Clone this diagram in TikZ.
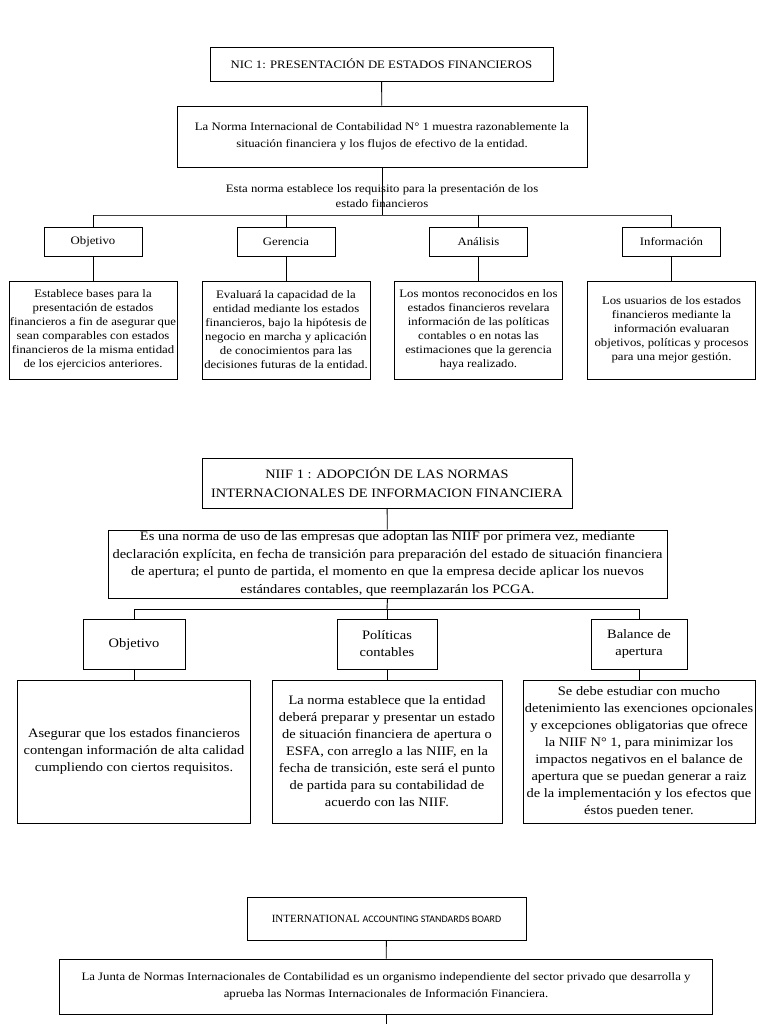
\documentclass[tikz,border=0pt]{standalone}
\usepackage{fontspec}
\setmainfont{Liberation Serif}[FakeStretch=1.12]
\newfontfamily\plainserif{Liberation Serif}
\newfontfamily\calib{Carlito}
\begin{document}
\begin{tikzpicture}[x=1pt,y=-1pt,
  box/.style={draw, line width=0.9pt, inner sep=0pt, align=center},
  fsa/.style={font=\fontsize{11.4}{14}\selectfont},
  fsb/.style={font=\fontsize{12.9}{17}\selectfont},
  ln/.style={line width=0.9pt}]
\useasboundingbox[fill=white] (0,0) rectangle (768,1024);

% ---------- Section 1 ----------
\node[box, fsa, minimum width=343, minimum height=34] (t1) at (381.5,64) {NIC 1: PRESENTACIÓN DE ESTADOS FINANCIEROS};
\node[box, font=\fontsize{11.4}{17}\selectfont, minimum width=410, minimum height=61] (d1) at (382,136.5)
  {La Norma Internacional de Contabilidad N° 1 muestra razonablemente la\\situación financiera y los flujos de efectivo de la entidad.};
\coordinate (b1) at (382,215);
\coordinate (b1l) at (93,215);
\coordinate (b1r) at (672,215);
\draw[ln] (t1) -- (d1);
\draw[ln] (d1.south) -- (b1);
\node[font=\fontsize{11.4}{15}\selectfont, align=center, inner sep=0pt] (lab1) at (382,196)
  {Esta norma establece los requisito para la presentación de los\\estado financieros};
\draw[ln, black!75] (b1l) -- (b1r);

\node[box, fsa, minimum width=98, minimum height=29] (c11) at (93,241.5) {Objetivo};
\node[box, fsa, minimum width=98, minimum height=29] (c12) at (286,241.5) {Gerencia};
\node[box, fsa, minimum width=98, minimum height=29] (c13) at (478.5,241.5) {Análisis};
\node[box, fsa, minimum width=98, minimum height=29] (c14) at (671.5,241.5) {Información};

\node[box, fsa, minimum width=168, minimum height=98] (e11) at (93,330)
  {Establece bases para la\\presentación de estados\\financieros a fin de asegurar que\\sean comparables con estados\\financieros de la misma entidad\\de los ejercicios anteriores.};
\node[box, fsa, minimum width=168, minimum height=98] (e12) at (286,330)
  {Evaluará la capacidad de la\\entidad mediante los estados\\financieros, bajo la hipótesis de\\negocio en marcha y aplicación\\de conocimientos para las\\decisiones futuras de la entidad.};
\node[box, fsa, minimum width=168, minimum height=98] (e13) at (478.5,330)
  {Los montos reconocidos en los\\estados financieros revelara\\información de las políticas\\contables o en notas las\\estimaciones que la gerencia\\haya realizado.};
\node[box, fsa, minimum width=168, minimum height=98] (e14) at (671.5,330)
  {Los usuarios de los estados\\financieros mediante la\\información evaluaran\\objetivos, políticas y procesos\\para una mejor gestión.};

\foreach \i in {1,2,3,4}{
  \draw[ln] (c1\i.north |- b1) -- (c1\i.north);
  \draw[ln] (c1\i) -- (e1\i);
}

% ---------- Section 2 ----------
\node[box, font=\fontsize{12.8}{19}\selectfont, minimum width=370, minimum height=50] (t2) at (387,483)
  {NIIF 1 : ADOPCIÓN DE LAS NORMAS\\INTERNACIONALES DE INFORMACION FINANCIERA};
\node[box, font=\fontsize{12.9}{17.7}\selectfont, minimum width=559, minimum height=68] (d2) at (387.5,564)
  {Es una norma de uso de las empresas que adoptan las NIIF por primera vez, mediante\\declaración explícita, en fecha de transición para preparación del estado de situación financiera\\de apertura; el punto de partida, el momento en que la empresa decide aplicar los nuevos\\estándares contables, que reemplazarán los PCGA.};
\coordinate (b2) at (387,609);
\coordinate (b2l) at (134,609);
\coordinate (b2r) at (639,609);
\draw[ln] (t2) -- (d2);
\draw[ln] (d2.south) -- (b2);
\draw[ln] (b2l) -- (b2r);

\node[box, fsb, minimum width=102, minimum height=50] (c21) at (134,644) {Objetivo};
\node[box, fsb, minimum width=100, minimum height=50] (c22) at (387,644) {Políticas\\contables};
\node[box, fsb, minimum width=96, minimum height=50] (c23) at (639,644) {Balance de\\apertura};

\node[box, fsb, minimum width=233, minimum height=143] (e21) at (134,751.5)
  {Asegurar que los estados financieros\\contengan información de alta calidad\\cumpliendo con ciertos requisitos.};
\node[box, fsb, minimum width=230, minimum height=143] (e22) at (387,751.5)
  {La norma establece que la entidad\\deberá preparar y presentar un estado\\de situación financiera de apertura o\\ESFA, con arreglo a las NIIF, en la\\fecha de transición, este será el punto\\de partida para su contabilidad de\\acuerdo con las NIIF.};
\node[box, fsb, minimum width=232, minimum height=143] (e23) at (639,751.5)
  {Se debe estudiar con mucho\\detenimiento las exenciones opcionales\\y excepciones obligatorias que ofrece\\la NIIF N° 1, para minimizar los\\impactos negativos en el balance de\\apertura que se puedan generar a raiz\\de la implementación y los efectos que\\éstos pueden tener.};

\foreach \i in {1,2,3}{
  \draw[ln] (c2\i.north |- b2) -- (c2\i.north);
  \draw[ln] (c2\i) -- (e2\i);
}

% ---------- Section 3 ----------
\node[box, font=\plainserif\fontsize{11}{13}\selectfont, minimum width=279, minimum height=43] (t3) at (386.5,918.5)
  {INTERNATIONAL {\calib\fontsize{10}{12}\selectfont ACCOUNTING STANDARDS BOARD}};
\node[box, font=\fontsize{11.4}{17}\selectfont, minimum width=653, minimum height=55] (d3) at (386,986.5)
  {La Junta de Normas Internacionales de Contabilidad es un organismo independiente del sector privado que desarrolla y\\aprueba las Normas Internacionales de Información Financiera.};
\coordinate (b3) at (386,1024);
\draw[ln] (t3) -- (d3);
\draw[ln] (d3.south) -- (b3);

\end{tikzpicture}
\end{document}
